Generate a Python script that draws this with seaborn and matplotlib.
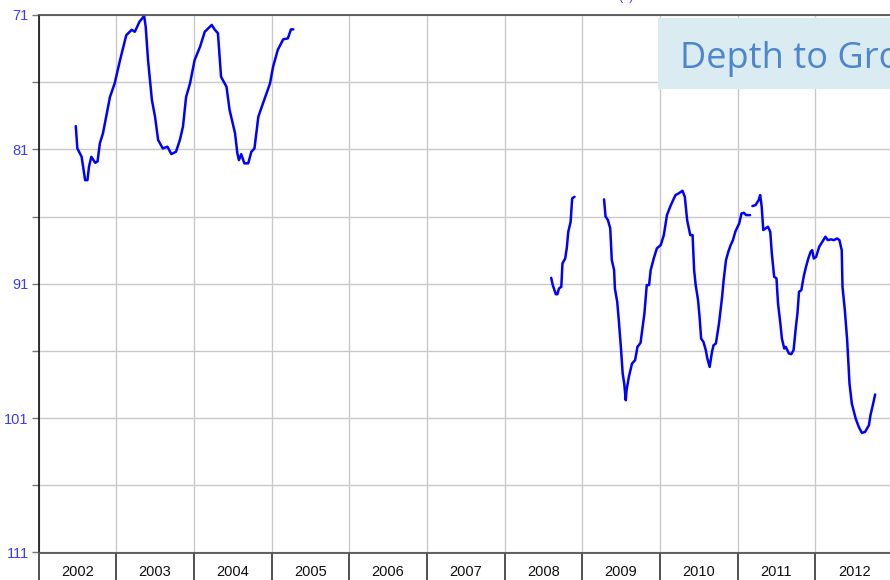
import matplotlib
matplotlib.use("Agg")
import matplotlib.pyplot as plt
from matplotlib.patches import Rectangle
from matplotlib.ticker import FixedLocator, FixedFormatter
import seaborn as sns
import pandas as pd
import numpy as np

# ---- data (decimal year, depth to groundwater) ----
seg1_year = [2002.48, 2002.50, 2002.555, 2002.60, 2002.63, 2002.65, 2002.68, 2002.73, 2002.76,
             2002.79, 2002.83, 2002.88, 2002.92, 2002.98, 2003.05, 2003.13, 2003.20, 2003.24,
             2003.30, 2003.36, 2003.38, 2003.41, 2003.46, 2003.50, 2003.54, 2003.60, 2003.66,
             2003.71, 2003.77, 2003.82, 2003.86, 2003.90, 2003.95, 2004.01, 2004.08, 2004.14,
             2004.23, 2004.27, 2004.31, 2004.35, 2004.42, 2004.46, 2004.53, 2004.56, 2004.58,
             2004.61, 2004.65, 2004.70, 2004.74, 2004.78, 2004.83, 2004.89, 2004.98, 2005.02,
             2005.08, 2005.15, 2005.21, 2005.25, 2005.28]
seg1_depth = [79.27, 80.93, 81.55, 83.29, 83.29, 82.3, 81.55, 82.0, 81.9,
              80.55, 79.8, 78.3, 77.1, 76.1, 74.35, 72.5, 72.1, 72.25,
              71.5, 71.07, 71.87, 74.35, 77.33, 78.57, 80.3, 80.93, 80.8,
              81.35, 81.18, 80.3, 79.3, 77.1, 76.1, 74.35, 73.36, 72.25,
              71.74, 72.1, 72.36, 75.6, 76.34, 78.07, 79.8, 81.3, 81.8,
              81.35, 82.04, 82.04, 81.18, 80.93, 78.57, 77.57, 76.1, 74.85,
              73.6, 72.81, 72.74, 72.07, 72.07]

seg2_year = [2008.60, 2008.62, 2008.66, 2008.68, 2008.70, 2008.73, 2008.745, 2008.78,
             2008.80, 2008.82, 2008.85, 2008.87, 2008.90]
seg2_depth = [90.56, 91.1, 91.78, 91.78, 91.35, 91.23, 89.49, 89.12,
              88.37, 87.13, 86.39, 84.65, 84.53]

seg3_year = [2009.28, 2009.30, 2009.33, 2009.36, 2009.38, 2009.41, 2009.42, 2009.45, 2009.47,
             2009.50, 2009.52, 2009.54, 2009.56, 2009.57, 2009.60, 2009.64, 2009.68, 2009.71,
             2009.75, 2009.80, 2009.83, 2009.86, 2009.88, 2009.92, 2009.96, 2010.01, 2010.05,
             2010.09, 2010.14, 2010.20, 2010.24, 2010.29, 2010.32, 2010.35, 2010.39, 2010.42,
             2010.44, 2010.46, 2010.49, 2010.51, 2010.53, 2010.56, 2010.59, 2010.61, 2010.64,
             2010.67, 2010.69, 2010.72, 2010.76, 2010.80, 2010.82, 2010.85, 2010.88, 2010.91,
             2010.94, 2010.97, 2011.02, 2011.05, 2011.08, 2011.11, 2011.16]
seg3_depth = [84.72, 86.0, 86.26, 86.88, 89.24, 89.99, 91.35, 92.35, 93.71,
              95.94, 97.68, 98.43, 99.67, 98.92, 97.93, 96.94, 96.69, 95.70,
              95.4, 93.21, 91.1, 91.1, 90.0, 89.12, 88.37, 88.12, 87.38,
              85.89, 85.15, 84.40, 84.28, 84.08, 84.53, 86.26, 87.38, 87.38,
              90.0, 91.1, 92.2, 93.46, 95.08, 95.33, 95.94, 96.56, 97.19,
              96.07, 95.57, 95.45, 93.96, 91.98, 90.73, 89.24, 88.62, 88.12,
              87.75, 87.13, 86.51, 85.77, 85.72, 85.89, 85.89]

seg4_year = [2011.19, 2011.23, 2011.27, 2011.29, 2011.31, 2011.33, 2011.36, 2011.39, 2011.42,
             2011.44, 2011.47, 2011.50, 2011.52, 2011.55, 2011.57, 2011.60, 2011.62, 2011.66,
             2011.69, 2011.72, 2011.75, 2011.77, 2011.79, 2011.82, 2011.85, 2011.88, 2011.91,
             2011.94, 2011.96, 2011.98, 2012.01, 2012.05, 2012.09, 2012.13, 2012.16, 2012.20,
             2012.24, 2012.28, 2012.31, 2012.34, 2012.35, 2012.38, 2012.41, 2012.44, 2012.47,
             2012.52, 2012.56, 2012.60, 2012.64, 2012.69, 2012.71, 2012.74, 2012.77]
seg4_depth = [85.22, 85.15, 84.78, 84.40, 85.27, 87.0, 86.88, 86.76, 87.13,
              88.74, 90.48, 90.6, 92.47, 93.96, 95.08, 95.82, 95.70, 96.19,
              96.24, 95.94, 94.21, 93.21, 91.6, 91.48, 90.48, 89.74, 89.12,
              88.62, 88.50, 89.12, 89.0, 88.25, 87.88, 87.5, 87.75, 87.70,
              87.75, 87.63, 87.75, 88.50, 91.23, 92.97, 95.2, 98.43, 99.92,
              101.04, 101.66, 102.10, 102.03, 101.53, 100.78, 100.04, 99.24]

year_labels = [str(y) for y in range(2002, 2013)]
depth_ticks = [71, 76, 81, 86, 91, 96, 101, 106, 111]
depth_labels = ["71", "", "81", "", "91", "", "101", "", "111"]
title_text = "Depth to Groundwater"

frames = []
for i, (xs, ys) in enumerate([(seg1_year, seg1_depth), (seg2_year, seg2_depth),
                              (seg3_year, seg3_depth), (seg4_year, seg4_depth)]):
    frames.append(pd.DataFrame({"year": xs, "depth": ys, "seg": i}))
df = pd.concat(frames, ignore_index=True)

sns.set_style("white")
plt.rcParams["font.family"] = ["Liberation Sans", "DejaVu Sans"]

W, H = 890, 580
fig = plt.figure(figsize=(W / 100, H / 100), dpi=100)
left, right, top, bottom = 38.5, 893.0, 15.0, 552.5
ax = fig.add_axes([left / W, 1 - bottom / H, (right - left) / W, (bottom - top) / H])

sns.lineplot(data=df, x="year", y="depth", units="seg", estimator=None, sort=False,
             color="#0000ff", linewidth=1.8, ax=ax, legend=False)

ax.set_xlim(2002, 2013)
ax.set_ylim(111, 71)
ax.set_xlabel("")
ax.set_ylabel("")

# y ticks
ax.yaxis.set_major_locator(FixedLocator(depth_ticks))
ax.yaxis.set_major_formatter(FixedFormatter(depth_labels))
ax.tick_params(axis="y", which="major", direction="out", length=5, width=1,
               color="#777777", labelcolor="#3b3bff", labelsize=10.5, pad=2, left=True)

# x ticks: boundaries as major (long ticks), labels at mid-year minor ticks
years = list(range(2002, 2014))
ax.xaxis.set_major_locator(FixedLocator(years))
ax.xaxis.set_major_formatter(FixedFormatter([""] * len(years)))
ax.xaxis.set_minor_locator(FixedLocator([y + 0.5 for y in range(2002, 2013)]))
ax.xaxis.set_minor_formatter(FixedFormatter(year_labels))
ax.tick_params(axis="x", which="major", direction="out", length=24, width=1.1,
               color="#222222", bottom=True)
ax.tick_params(axis="x", which="minor", length=0, labelsize=10.5, labelcolor="#111111",
               pad=9, bottom=True)

ax.grid(True, which="major", color="#c9c9c9", linewidth=1.0)
ax.set_axisbelow(True)

for side in ["top", "bottom"]:
    ax.spines[side].set_color("#555555")
    ax.spines[side].set_linewidth(1.3)
ax.spines["left"].set_color("#111111")
ax.spines["left"].set_linewidth(1.2)
ax.spines["right"].set_visible(False)

# title box (cut off at right edge, as in the source)
rect = Rectangle((658 / W, 1 - 89 / H), (W - 658) / W + 0.01, (89 - 18) / H,
                 transform=fig.transFigure, facecolor="#daecf2", edgecolor="none", zorder=5)
fig.add_artist(rect)
fig.text(680 / W, 1 - 68 / H, title_text, fontsize=26, color="#4d86cc",
         family=["Open Sans", "DejaVu Sans"], va="baseline", ha="left", zorder=6)

# small clipped label at very top
fig.text(626 / W, 1.0, "(ft)", fontsize=9, color="#3b3bff", ha="center", va="baseline")

fig.savefig("out.png", dpi=100)
